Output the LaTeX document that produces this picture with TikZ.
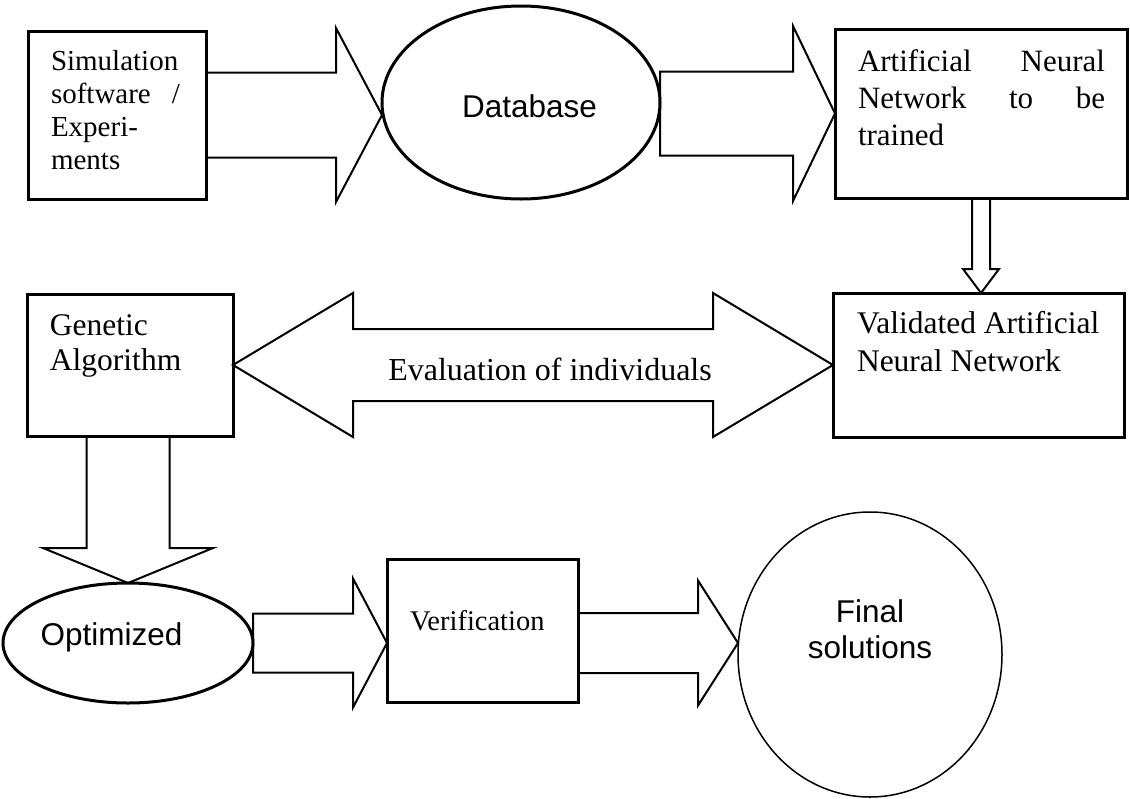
\documentclass[tikz,border=0pt]{standalone}
\usepackage{fontspec}
\setmainfont{Liberation Serif}
\setsansfont{Liberation Sans}
\usetikzlibrary{calc,shapes.geometric}

% text block inside a box: left pad, text width, right pad, box height, first-baseline drop, text
\newcommand\inbox[6]{\hspace*{#1}\parbox[t][#4][t]{#2}{\rule{0pt}{#5}#6}\hspace*{#3}}
% zero-size label whose baseline centre sits at (dx,dy) from the node centre
\newcommand\offtext[3]{\raisebox{#2}[0pt][0pt]{\makebox[0pt]{\hspace*{#1}\hspace*{#1}#3}}}

% horizontal block arrow: tail, tip, half shaft, half head, head length
\newcommand\harrow[5]{%
  \draw[blk] let \p1=(#1), \p2=(#2) in
    (\x1,\y2+#3) -- (\x2-#5,\y2+#3) -- (\x2-#5,\y2+#4) -- (\x2,\y2)
    -- (\x2-#5,\y2-#4) -- (\x2-#5,\y2-#3) -- (\x1,\y2-#3) -- cycle;}
% downward block arrow: tail, tip, half shaft, half head, head length
\newcommand\varrow[5]{%
  \draw[blk] let \p1=(#1), \p2=(#2) in
    (\x2+#3,\y1) -- (\x2+#3,\y2+#5) -- (\x2+#4,\y2+#5) -- (\x2,\y2)
    -- (\x2-#4,\y2+#5) -- (\x2-#3,\y2+#5) -- (\x2-#3,\y1) -- cycle;}

\tikzset{
  box/.style={draw, line width=3pt, inner sep=0pt, outer sep=0pt, anchor=north west},
  oval/.style={draw, ellipse, line width=3pt, inner sep=0pt, outer sep=0pt,
    font=\sffamily\fontsize{31.5}{36}\selectfont},
  blk/.style={draw, line width=2pt, line join=miter},
}

\begin{document}
\begin{tikzpicture}[x=1pt, y=-1pt]
\useasboundingbox (0,0) rectangle (1130,798);

% boxes
\node[box, font=\fontsize{29}{33}\selectfont] (sim) at (28,31)
  {\inbox{23pt}{129pt}{26pt}{168pt}{39pt}{Simulation\\software\hfill/\\Experi-\\ments}};
\node[box, font=\fontsize{31}{37}\selectfont] (ann) at (835,29)
  {\inbox{23pt}{247pt}{22pt}{169pt}{42pt}{Artificial\hfill Neural\\Network\hfill to\hfill be\\trained}};
\node[box, font=\fontsize{31.5}{38}\selectfont] (val) at (833,293)
  {\inbox{24pt}{250pt}{17pt}{144pt}{40pt}{Validated Artificial\\Neural Network}};
\node[box, font=\fontsize{31.5}{35}\selectfont] (ga) at (27,294)
  {\inbox{23pt}{140pt}{43pt}{142pt}{41pt}{Genetic\\Algorithm}};
\node[box, font=\fontsize{28.5}{33}\selectfont] (ver) at (387,559)
  {\inbox{23pt}{145pt}{23pt}{143pt}{71pt}{Verification}};

% ellipses
\node[oval, minimum width=278pt, minimum height=193pt] (db) at (521,102.5)
  {\offtext{8.5pt}{-14.5pt}{Database}};
\node[oval, minimum width=250pt, minimum height=120pt] (opt) at (128,643)
  {\offtext{-16.5pt}{-2pt}{Optimized}};
\node[oval, line width=1.5pt, minimum width=264pt, minimum height=285pt] (fin) at (870,654.5)
  {\offtext{0pt}{32.5pt}{\begin{tabular}[t]{@{}c@{}}Final\\solutions\end{tabular}}};

% block arrows
\harrow{sim.east}{db.west |- sim.east}{42.5pt}{87pt}{46pt}
\harrow{db.east |- ann.west}{ann.west}{42pt}{87.5pt}{42pt}
\varrow{ann.south}{val.north -| ann.south}{9pt}{18pt}{24pt}
\varrow{ga.south}{opt.north}{41.5pt}{85pt}{35pt}
\harrow{opt.east}{ver.west |- opt.east}{29.5pt}{64.5pt}{34pt}
\harrow{ver.east |- opt.east}{fin.west |- opt.east}{30pt}{62.5pt}{40pt}

% two-headed arrow between the genetic algorithm and the validated network
\draw[blk] let \p1=(ga.east), \p2=(val.west) in
  (\x1,\y1) -- (\x1+120pt,\y1+72pt) -- (\x1+120pt,\y1+36pt) -- (\x2-120pt,\y1+36pt)
  -- (\x2-120pt,\y1+72pt) -- (\x2,\y1) -- (\x2-120pt,\y1-72pt) -- (\x2-120pt,\y1-36pt)
  -- (\x1+120pt,\y1-36pt) -- (\x1+120pt,\y1-72pt) -- cycle;
\node[inner sep=0pt, font=\fontsize{32}{36}\selectfont] (eval)
  at ($(ga.east)!0.5!(val.west)+(17,4)$) {Evaluation of individuals};
\end{tikzpicture}
\end{document}
